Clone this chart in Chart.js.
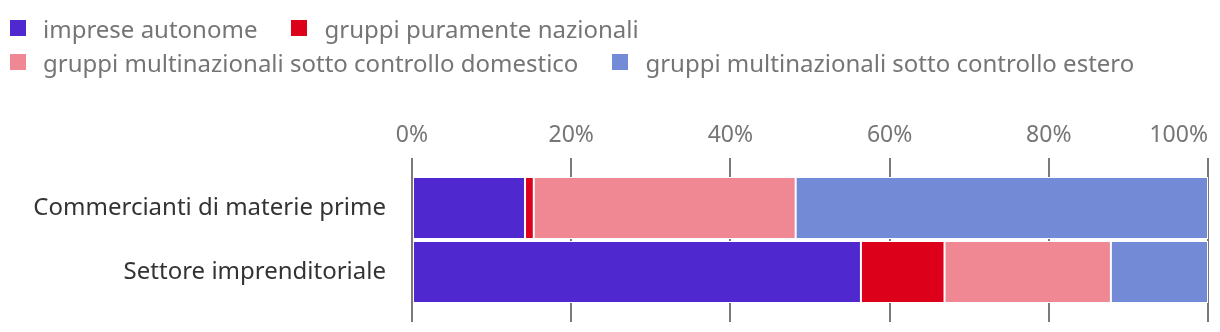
<!DOCTYPE html>
<html>
<head>
<meta charset="utf-8">
<script src="https://cdn.jsdelivr.net/npm/chart.js@4/dist/chart.umd.min.js"></script>
<style>
    html, body { margin: 0; padding: 0; background: #fff; }
    #wrap { position: relative; width: 1220px; height: 332px; }
    #legend {
        position: absolute; left: 10px; top: 11px; width: 1205px;
        display: flex; flex-wrap: wrap;
        font-family: "Noto Sans", sans-serif; font-size: 24px; color: #757575;
    }
    .item { display: flex; align-items: center; height: 34px; margin-right: 34px; white-space: nowrap; }
    .box { width: 16px; height: 16px; margin-right: 17px; }
</style>
</head>
<body>
<div id="wrap">
    <canvas id="chart" width="1220" height="332"></canvas>
    <div id="legend"></div>
</div>
<script>
const categories = ["Commercianti di materie prime", "Settore imprenditoriale"];
const seriesNames = [
    "imprese autonome",
    "gruppi puramente nazionali",
    "gruppi multinazionali sotto controllo domestico",
    "gruppi multinazionali sotto controllo estero",
];
const seriesColors = ["#4f28d0", "#dc001a", "#f08894", "#738bd6"];
const impreseAutonome = [14.2, 56.4];
const gruppiNazionali = [1.1, 10.5];
const multiDomestico = [32.9, 20.9];
const multiEstero = [51.8, 12.2];
const tickValues = [0, 20, 40, 60, 80, 100];

const seriesValues = [impreseAutonome, gruppiNazionali, multiDomestico, multiEstero];

const legendEl = document.getElementById("legend");
seriesNames.forEach((name, i) => {
    const item = document.createElement("div");
    item.className = "item";
    const box = document.createElement("span");
    box.className = "box";
    box.style.background = seriesColors[i];
    item.appendChild(box);
    item.appendChild(document.createTextNode(name));
    legendEl.appendChild(item);
});

// top tick labels, the last one kept inside the plot
const topLabels = {
    id: "topLabels",
    afterDraw: (chart) => {
        const scale = chart.scales.x;
        const ctx = chart.ctx;
        ctx.save();
        ctx.font = '23px "Noto Sans"';
        ctx.fillStyle = "#757575";
        ctx.textBaseline = "middle";
        ctx.textAlign = "center";
        scale.ticks.forEach((tick, i) => {
            const text = tick.value + "%";
            const w = ctx.measureText(text).width;
            let x = scale.getPixelForTick(i);
            x = Math.min(x, chart.chartArea.right - w / 2);
            ctx.fillText(text, x, 135);
        });
        ctx.restore();
    },
};

const xGrid = {
    color: "#7a7a7a",
    lineWidth: 2,
    tickLength: 18,
};

new Chart(document.getElementById("chart"), {
    type: "bar",
    data: {
        labels: categories,
        datasets: seriesValues.map((vals, i) => ({
            label: seriesNames[i],
            data: vals,
            backgroundColor: seriesColors[i],
            borderColor: "#ffffff",
            borderWidth: 1,
            borderSkipped: false,
            categoryPercentage: 1,
            barPercentage: 62 / 64,
        })),
    },
    options: {
        indexAxis: "y",
        responsive: false,
        animation: false,
        layout: { padding: { top: 158, right: 12, bottom: 10, left: 0 } },
        plugins: {
            legend: { display: false },
            tooltip: { enabled: false },
        },
        scales: {
            x: {
                position: "top",
                stacked: true,
                min: 0,
                max: 100,
                afterBuildTicks: (scale) => {
                    scale.ticks = tickValues.map((v) => ({ value: v }));
                },
                ticks: { display: false },
                border: { display: false },
                grid: xGrid,
            },
            x2: {
                position: "bottom",
                min: 0,
                max: 100,
                afterBuildTicks: (scale) => {
                    scale.ticks = tickValues.map((v) => ({ value: v }));
                },
                ticks: { display: false },
                border: { display: false },
                grid: { ...xGrid, drawOnChartArea: false },
            },
            y: {
                stacked: true,
                afterFit: (scale) => {
                    scale.width = 412;
                    scale.paddingTop = 0;
                    scale.paddingBottom = 0;
                },
                border: { display: false },
                grid: { display: false, drawTicks: false },
                ticks: {
                    color: "#333333",
                    padding: 26,
                    font: { family: "Noto Sans", size: 24 },
                },
            },
        },
    },
    plugins: [topLabels],
});
</script>
</body>
</html>
